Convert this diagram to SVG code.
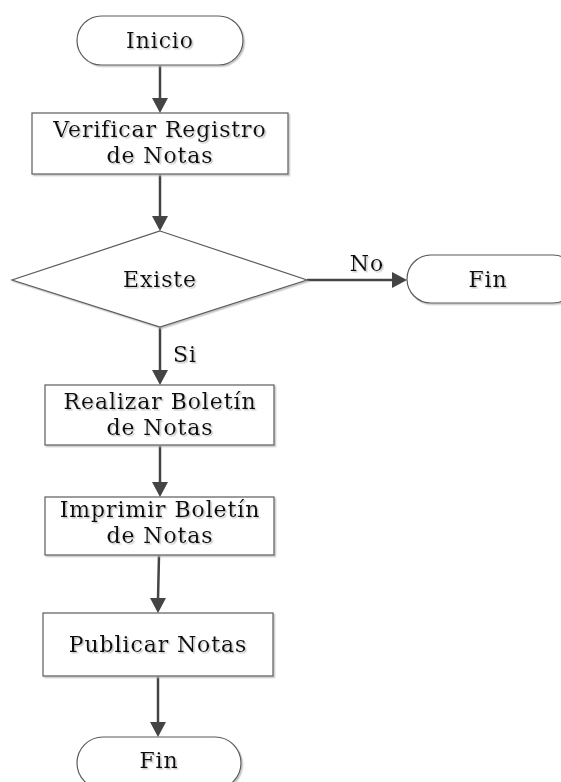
<svg xmlns="http://www.w3.org/2000/svg" width="561" height="782" viewBox="0 0 561 782">
  <style>
    .shape { fill: #ffffff; stroke: #5a5a5a; stroke-width: 1.2; filter: url(#soft); }
    .label { font-family: "DejaVu Serif", "Liberation Serif", serif; font-size: 22px; letter-spacing: 0.9px; fill: #111111; text-anchor: middle; filter: url(#soft); }
    .edge { fill: none; stroke: #444444; stroke-width: 2.5; }
    .head { fill: #444444; }
  </style>
  <defs>
    <!-- faint offset shadow used on shapes and labels -->
    <filter id="soft" x="-10%" y="-10%" width="125%" height="130%">
      <feDropShadow dx="1.5" dy="1.5" stdDeviation="0.6" flood-color="#b8b8b8" flood-opacity="0.8"/>
    </filter>
  </defs>
  <rect width="561" height="782" fill="#ffffff"/>

  <!-- connectors -->
  <g id="connectors">
    <line class="edge" x1="160" y1="65" x2="160" y2="100"/>
    <path class="head" d="M152,98 L168,98 L160,113 z"/>
    <line class="edge" x1="160" y1="174" x2="160" y2="218"/>
    <path class="head" d="M152,216 L168,216 L160,231 z"/>
    <line class="edge" x1="307" y1="280" x2="394" y2="280"/>
    <path class="head" d="M392,272 L392,288 L407,280 z"/>
    <text class="label" x="367" y="271">No</text>
    <line class="edge" x1="160" y1="327" x2="160" y2="372"/>
    <path class="head" d="M152,370 L168,370 L160,385 z"/>
    <text class="label" x="185" y="362">Si</text>
    <line class="edge" x1="160" y1="445" x2="160" y2="484"/>
    <path class="head" d="M152,482 L168,482 L160,497 z"/>
    <line class="edge" x1="159" y1="555" x2="158" y2="600"/>
    <path class="head" d="M150,598 L166,598 L158,613 z"/>
    <line class="edge" x1="158" y1="676" x2="158" y2="724"/>
    <path class="head" d="M150,722 L166,722 L158,737 z"/>
  </g>

  <g id="inicio">
    <rect class="shape" x="77" y="16" width="166" height="49" rx="24.5"/>
    <text class="label" x="160" y="48">Inicio</text>
  </g>

  <g id="verificar">
    <rect class="shape" x="32" y="113" width="256" height="61"/>
    <text class="label" x="160" y="137">Verificar Registro</text>
    <text class="label" x="160" y="163">de Notas</text>
  </g>

  <g id="existe">
    <polygon class="shape" points="160,231 307,280 160,327 12,280"/>
    <text class="label" x="160" y="287">Existe</text>
  </g>

  <g id="fin-no">
    <rect class="shape" x="407" y="255" width="170" height="48" rx="24"/>
    <text class="label" x="488" y="287">Fin</text>
  </g>

  <g id="realizar">
    <rect class="shape" x="45" y="385" width="229" height="60"/>
    <text class="label" x="160" y="409">Realizar Boletín</text>
    <text class="label" x="160" y="435">de Notas</text>
  </g>

  <g id="imprimir">
    <rect class="shape" x="45" y="497" width="229" height="58"/>
    <text class="label" x="160" y="517">Imprimir Boletín</text>
    <text class="label" x="160" y="543">de Notas</text>
  </g>

  <g id="publicar">
    <rect class="shape" x="43" y="613" width="230" height="63"/>
    <text class="label" x="158" y="652">Publicar Notas</text>
  </g>

  <g id="fin">
    <rect class="shape" x="77" y="737" width="164" height="52" rx="26"/>
    <text class="label" x="159" y="768">Fin</text>
  </g>
</svg>
